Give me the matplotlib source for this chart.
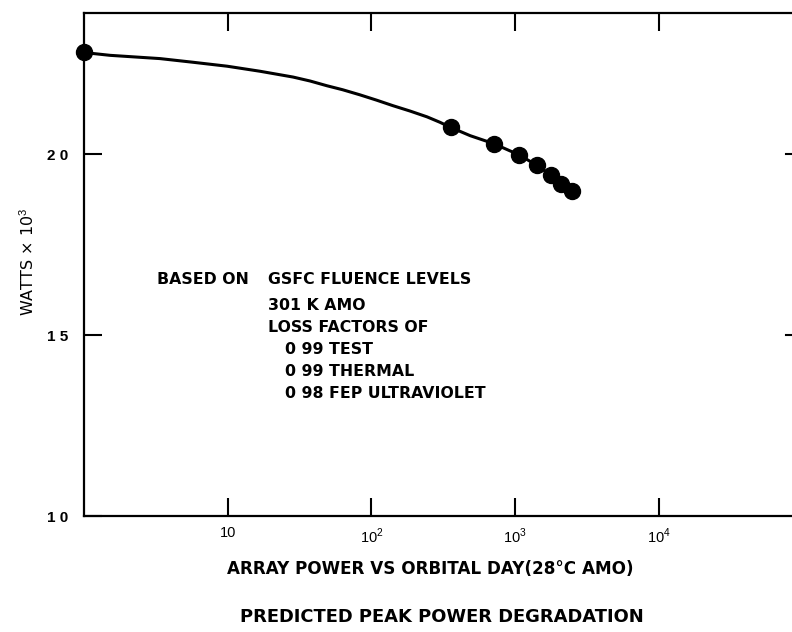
import matplotlib
matplotlib.use("Agg")
import matplotlib.pyplot as plt

# ---- data ----
marker_days = [1, 356, 710, 1065, 1420, 1787, 2100, 2490]
marker_watts = [2.283, 2.074, 2.029, 1.998, 1.969, 1.941, 1.918, 1.899]

curve_days = [1, 1.16, 1.52, 3.38, 5.7, 9.9, 16.8, 28.5, 37.5, 49, 63, 83, 109, 141, 186,
              244, 300, 356, 487, 710, 1065, 1420, 1787, 2100, 2490]
curve_watts = [2.283, 2.278, 2.273, 2.264, 2.254, 2.243, 2.229, 2.213, 2.202, 2.189, 2.178,
               2.164, 2.149, 2.134, 2.119, 2.103, 2.088, 2.074, 2.051, 2.029, 1.998, 1.969,
               1.941, 1.918, 1.899]

x_ticks = [10, 100, 1000, 10000]
x_tick_labels = ["10", "10$^2$", "10$^3$", "10$^4$"]
y_ticks = [1.0, 1.5, 2.0]
y_tick_labels = ["1 0", "1 5", "2 0"]

note_lines = [
    ("BASED ON", 157, 280),
    ("GSFC FLUENCE LEVELS", 268, 280),
    ("301 K AMO", 268, 305),
    ("LOSS FACTORS OF", 268, 328),
    ("0 99 TEST", 285, 350),
    ("0 99 THERMAL", 285, 372),
    ("0 98 FEP ULTRAVIOLET", 285, 393),
]

W, H = 792, 632
plt.rcParams['font.family'] = ['Liberation Sans', 'DejaVu Sans']
plt.rcParams['mathtext.fontset'] = 'custom'
plt.rcParams['mathtext.rm'] = 'Liberation Sans'

fig = plt.figure(figsize=(W / 100, H / 100), dpi=100)
left, right, top, bottom = 84, 796, 13, 516
ax = fig.add_axes([left / W, (H - bottom) / H, (right - left) / W, (bottom - top) / H])

ax.plot(curve_days, curve_watts, color='black', lw=2.2, solid_capstyle='round',
        solid_joinstyle='round', zorder=3)
ax.plot(marker_days, marker_watts, 'o', color='black', ms=11.5, zorder=4, clip_on=False)

ax.set_xscale('log')
ax.set_xlim(1, 10 ** 4.955)
ax.set_ylim(1.0, 2.39)

for s in ['left', 'bottom', 'top']:
    ax.spines[s].set_linewidth(1.6)
ax.spines['right'].set_visible(False)

ax.set_xticks(x_ticks)
ax.set_xticklabels(x_tick_labels)
ax.xaxis.set_minor_locator(matplotlib.ticker.NullLocator())
ax.set_yticks(y_ticks)
ax.set_yticklabels(y_tick_labels, fontweight='bold')

ax.tick_params(axis='x', which='major', direction='in', bottom=True, top=True,
               length=13, width=1.5, labelsize=10.5, pad=7.5)
ax.tick_params(axis='y', which='major', direction='in', left=True, right=False,
               length=13, width=1.5, labelsize=11, pad=11)

# right-side stubs (axis edge just off the picture)
for yv in [2.0, 1.5]:
    ax.plot([10 ** 4.885, 10 ** 4.955], [yv, yv], color='black', lw=1.5, clip_on=False)

def fx(px):
    return px / W

def fy(py):
    return 1 - py / H

fig.text(fx(28), fy(262), "WATTS \u00d7 10$^3$", rotation=90, ha='center', va='center',
         fontsize=11.5, family=['DejaVu Sans'])

for txt, px, py in note_lines:
    fig.text(fx(px), fy(py), txt, ha='left', va='center', fontsize=11.3, fontweight='bold',
             family=['DejaVu Sans'])

fig.text(fx(430), fy(569), "ARRAY POWER VS ORBITAL DAY(28\u00b0C AMO)", ha='center', va='center',
         fontsize=12.1, fontweight='bold', family=['DejaVu Sans'])
fig.text(fx(442), fy(617), "PREDICTED PEAK POWER DEGRADATION", ha='center', va='center',
         fontsize=12.9, fontweight='bold', family=['DejaVu Sans'])

fig.savefig("out.png", dpi=100)
